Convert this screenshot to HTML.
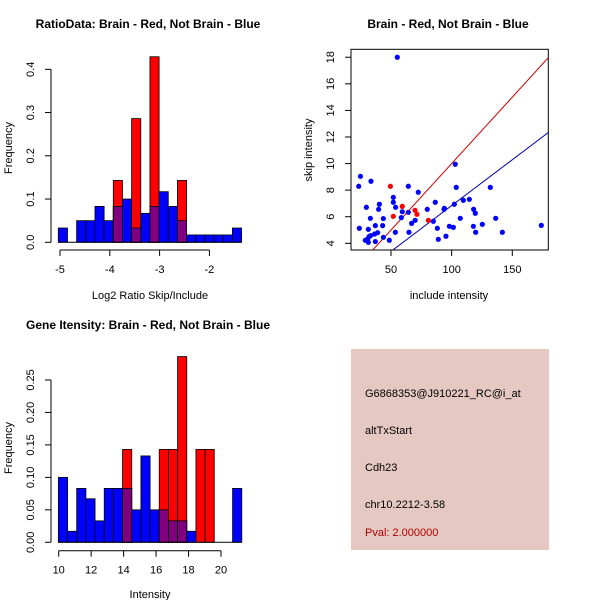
<!DOCTYPE html>
<html><head><meta charset="utf-8"><style>
body{margin:0;background:#fff}
svg text{font-family:"Liberation Sans",sans-serif}
</style></head><body>
<svg id="s" width="600" height="600" xmlns="http://www.w3.org/2000/svg">
<rect x="0" y="0" width="600" height="600" fill="#fff"/>
<text x="148" y="28" font-size="12" font-weight="bold" text-anchor="middle">RatioData: Brain - Red, Not Brain - Blue</text>
<text x="448" y="28" font-size="12" font-weight="bold" text-anchor="middle">Brain - Red, Not Brain - Blue</text>
<text x="148" y="329" font-size="12" font-weight="bold" text-anchor="middle">Gene Itensity: Brain - Red, Not Brain - Blue</text>
<text x="150" y="299" font-size="11" text-anchor="middle">Log2 Ratio Skip/Include</text>
<text x="12" y="148" font-size="11" text-anchor="middle" transform="rotate(-90 12 148)">Frequency</text>
<text x="449" y="299" font-size="11" text-anchor="middle">include intensity</text>
<text x="312" y="150" font-size="11" text-anchor="middle" transform="rotate(-90 312 150)">skip intensity</text>
<text x="150" y="598" font-size="11" text-anchor="middle">Intensity</text>
<text x="12" y="448" font-size="11" text-anchor="middle" transform="rotate(-90 12 448)">Frequency</text>
<g>
<rect x="351" y="349" width="198" height="201" fill="#e6c8c2"/>
<text x="365" y="397" font-size="11">G6868353@J910221_RC@i_at</text>
<text x="365" y="434" font-size="11">altTxStart</text>
<text x="365" y="471" font-size="11">Cdh23</text>
<text x="365" y="508" font-size="11">chr10.2212-3.58</text>
<text x="365" y="536" font-size="11" fill="#b00000">Pval: 2.000000</text>
</g>
</svg>
<script>
// Ratio histogram data
const ratioStart = -5.034, ratioBin = 0.184;
const ratioBlue = [0.033,0,0.05,0.05,0.083,0.05,0.083,0.1,0.033,0.067,0.083,0.117,0.083,0.05,0.017,0.017,0.017,0.017,0.017,0.033];
const ratioRed  = [0,0,0,0,0,0,0.143,0,0.286,0,0.429,0,0,0.143,0,0,0,0,0,0];
const ratioXTicks = [-5,-4,-3,-2];
const ratioYTicks = [0.0,0.1,0.2,0.3,0.4];
const ratioYLabels = ["0.0","0.1","0.2","0.3","0.4"];
// Intensity histogram data
const intStart = 9.98, intBin = 0.565;
const intBlue = [0.1,0.017,0.083,0.067,0.033,0.083,0.083,0.083,0.05,0.133,0.05,0.05,0.033,0.033,0.017,0,0,0,0,0.083];
const intRed  = [0,0,0,0,0,0,0,0.143,0,0,0,0.143,0.143,0.286,0,0.143,0.143,0,0,0];
const intXTicks = [10,12,14,16,18,20];
const intYTicks = [0,0.05,0.1,0.15,0.2,0.25];
const intYLabels = ["0.00","0.05","0.10","0.15","0.20","0.25"];
// Scatter data
const blueX = [23.4,24.8,23.9,33.5,29.7,33,31.3,28.8,30.8,31.9,33.2,31.3,37.1,36.5,37.1,39,40.4,39.8,43.1,43.7,43.7,48.6,51.9,51.9,53.8,53.6,55.2,58.5,59.3,64.3,64.3,64.8,67,69.9,72.5,79.9,84.9,86.5,88.2,89,93.7,94,95.3,98.1,101.4,102.2,103,103.8,107.1,109.6,114.6,118.1,119.5,117.9,119.8,125.3,131.9,136.3,141.8,173.9];
const blueY = [8.29,9.04,5.13,8.67,6.71,5.88,5.05,4.23,4.33,4.5,4.58,4.08,5.33,4.7,4.13,4.8,6.94,6.56,5.33,5.86,4.45,4.23,7.46,7.09,6.71,4.83,18,5.93,6.38,8.29,6.33,4.83,5.5,5.73,7.84,6.56,5.66,7.09,5.13,4.3,6.56,6.63,4.53,5.28,5.2,6.94,9.95,8.21,5.88,7.24,7.31,6.56,6.26,5.28,4.83,5.43,8.21,5.88,4.83,5.35];
const redX = [49.5,51.9,59.3,69.8,71.4,80.8];
const redY = [8.29,6.03,6.78,6.48,6.18,5.73];
const redSlope = 0.1, redIntercept = 0;
const blueSlope = 0.069, blueIntercept = -0.06;
const scXTicks = [50,100,150];
const scYTicks = [4,6,8,10,12,14,16,18];

const S = document.getElementById('s');
const NS = 'http://www.w3.org/2000/svg';
function mk(tag, attrs, parent){const e=document.createElementNS(NS,tag);for(const k in attrs)e.setAttribute(k,attrs[k]);(parent||S).appendChild(e);return e;}

function hist(start,bin,blue,red,xTicks,yTicks,yLabels,sx,sy,axY,name){
  const g = mk('g',{});
  
  
  for(let i=0;i<blue.length;i++){
    const x0=sx(start+i*bin), x1=sx(start+(i+1)*bin);
    const b=blue[i], r=red[i], m=Math.min(b,r);
    if(b>0){const e=mk('rect',{x:x0,y:sy(b),width:x1-x0,height:sy(0)-sy(b),fill:'#0000ff',stroke:'#000','stroke-width':0.8},g);
      
      }
    if(r>0){const e=mk('rect',{x:x0,y:sy(r),width:x1-x0,height:sy(0)-sy(r),fill:'#ff0000',stroke:'#000','stroke-width':0.8},g);
      
      }
    if(m>0){const e=mk('rect',{x:x0,y:sy(m),width:x1-x0,height:sy(0)-sy(m),fill:'#800080',stroke:'#000','stroke-width':0.8},g);
      
      }
  }
  mk('line',{x1:sx(start),x2:sx(start+blue.length*bin),y1:sy(0),y2:sy(0),stroke:'#000'},g);
  const yl=mk('line',{x1:51,x2:51,y1:sy(yTicks[0]),y2:sy(yTicks[yTicks.length-1]),stroke:'#000'},g);
  
  
  yTicks.forEach((t,i)=>{mk('line',{x1:45,x2:51,y1:sy(t),y2:sy(t),stroke:'#000'},g);
    const tx=mk('text',{x:34,y:sy(t),'font-size':11,'text-anchor':'middle',transform:`rotate(-90 34 ${sy(t)})`},g);tx.textContent=yLabels[i];
    
    });
  const xl=mk('line',{x1:sx(xTicks[0]),x2:sx(xTicks[xTicks.length-1]),y1:axY,y2:axY,stroke:'#000'},g);
  
  
  xTicks.forEach(t=>{mk('line',{x1:sx(t),x2:sx(t),y1:axY,y2:axY+6,stroke:'#000'},g);
    const tx=mk('text',{x:sx(t),y:axY+23,'font-size':11,'text-anchor':'middle'},g);tx.textContent=String(t);
    
    });
}
hist(ratioStart,ratioBin,ratioBlue,ratioRed,ratioXTicks,ratioYTicks,ratioYLabels,
  v=>60+(v+5)*49.8, v=>242.3-v*432.5, 250, 'ratio-histogram');
hist(intStart,intBin,intBlue,intRed,intXTicks,intYTicks,intYLabels,
  v=>58.7+(v-10)*16.23, v=>542.3-v*649.4, 550.7, 'intensity-histogram');

const sxs=v=>391+(v-50)*1.213, sys=v=>243.3-(v-4)*13.29;
const sg=mk('g',{});


const cp=mk('clipPath',{id:'cp'},sg);mk('rect',{x:351,y:49.3,width:197.3,height:200.7},cp);
const box=mk('rect',{x:351,y:49.3,width:197.3,height:200.7,fill:'none',stroke:'#000'},sg);


const lg=mk('g',{'clip-path':'url(#cp)'},sg);
const rl=mk('line',{x1:sxs(0),y1:sys(redIntercept),x2:sxs(200),y2:sys(redIntercept+redSlope*200),stroke:'#cc0000'},lg);


const bl=mk('line',{x1:sxs(0),y1:sys(blueIntercept),x2:sxs(200),y2:sys(blueIntercept+blueSlope*200),stroke:'#0000aa'},lg);


blueX.forEach((x,i)=>{const c=mk('circle',{cx:sxs(x),cy:sys(blueY[i]),r:2.6,fill:'#0000ff'},sg);
  
  });
redX.forEach((x,i)=>{const c=mk('circle',{cx:sxs(x),cy:sys(redY[i]),r:2.6,fill:'#ff0000'},sg);
  
  });
scXTicks.forEach(t=>{mk('line',{x1:sxs(t),x2:sxs(t),y1:250,y2:256,stroke:'#000'},sg);
  const tx=mk('text',{x:sxs(t),y:273,'font-size':11,'text-anchor':'middle'},sg);tx.textContent=String(t);
  
  });
scYTicks.forEach(t=>{mk('line',{x1:345,x2:351,y1:sys(t),y2:sys(t),stroke:'#000'},sg);
  const tx=mk('text',{x:334,y:sys(t),'font-size':11,'text-anchor':'middle',transform:`rotate(-90 334 ${sys(t)})`},sg);tx.textContent=String(t);
  
  });
</script>
</body></html>
